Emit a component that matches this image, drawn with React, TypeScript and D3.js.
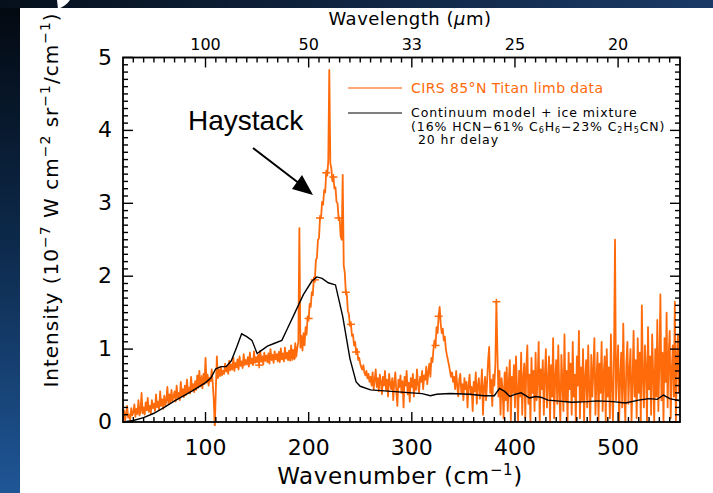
import React from 'react';
import * as d3 from 'd3';

// CIRS spectrum, sampled every 1 cm-1 from 20 to 560
const dataStart = 20;
const dataStep = 1;
const cirsValues = [
  0.04, 0.16, 0.02, 0.12, 0.22, 0.06, 0.10, 0.03, 0.19, 0.09,
  0.13, 0.24, 0.07, 0.18, 0.11, 0.30, 0.09, 0.15, 0.40, 0.12,
  0.20, 0.10, 0.27, 0.16, 0.33, 0.14, 0.22, 0.12, 0.30, 0.19,
  0.25, 0.15, 0.38, 0.20, 0.28, 0.17, 0.42, 0.22, 0.31, 0.18,
  0.36, 0.23, 0.30, 0.48, 0.25, 0.38, 0.27, 0.44, 0.29, 0.35,
  0.42, 0.28, 0.50, 0.33, 0.40, 0.30, 0.55, 0.36, 0.45, 0.34,
  0.50, 0.37, 0.58, 0.40, 0.47, 0.39, 0.62, 0.43, 0.52, 0.41,
  0.56, 0.44, 0.64, 0.47, 0.70, 0.49, 0.60, 0.46, 0.66, 0.52,
  0.88, 0.54, 0.65, 0.50, 0.61, 0.56, 0.72, 0.53, 0.30, -0.08,
  0.45, 0.90, 0.60, 0.72, 0.63, 0.76, 0.64, 0.70, 0.66, 0.80,
  0.69, 0.77, 0.66, 0.84, 0.71, 0.79, 0.72, 0.88, 0.70, 0.81,
  0.75, 0.86, 0.72, 0.90, 0.77, 0.83, 0.74, 0.93, 0.78, 0.85,
  0.79, 0.89, 0.76, 0.95, 0.80, 0.87, 0.78, 0.97, 0.81, 0.89,
  0.82, 0.92, 0.78, 0.98, 0.83, 0.90, 0.79, 0.95, 0.84, 0.91,
  0.82, 0.94, 0.80, 1.00, 0.85, 0.92, 0.81, 0.97, 0.86, 0.93,
  0.83, 0.96, 0.82, 1.01, 0.86, 0.94, 0.83, 1.02, 0.87, 0.95,
  0.85, 0.98, 0.84, 1.05, 0.88, 0.99, 0.86, 1.08, 0.90, 1.02,
  1.10, 2.66, 1.02, 1.18, 0.98, 1.22, 1.05, 1.30, 1.20, 1.45,
  1.42, 1.62, 1.58, 1.78, 1.74, 1.98, 1.95, 2.22, 2.25, 2.50,
  2.52, 2.80, 2.80, 3.02, 2.98, 3.18, 3.15, 3.42, 3.38, 3.58,
  4.83, 3.55, 3.48, 3.30, 3.36, 3.20, 3.22, 3.02, 3.00, 2.80,
  2.80, 2.55, 2.50, 3.39, 2.15, 2.05, 1.78, 1.75, 1.52, 1.48,
  1.32, 1.34, 1.18, 1.20, 1.05, 1.10, 0.96, 1.00, 0.85, 0.88,
  0.80, 0.75, 0.72, 0.78, 0.68, 0.64, 0.70, 0.60, 0.66, 0.55,
  0.62, 0.50, 0.68, 0.45, 0.58, 0.72, 0.48, 0.60, 0.42, 0.65,
  0.55, 0.38, 0.62, 0.50, 0.70, 0.44, 0.58, 0.35, 0.66, 0.52,
  0.45, 0.60, 0.30, 0.55, 0.68, 0.42, 0.22, 0.58, 0.48, 0.64,
  0.40, 0.56, 0.20, 0.62, 0.50, 0.70, 0.38, 0.54, 0.28, 0.60,
  0.48, 0.66, 0.35, 0.58, 0.44, 0.72, 0.52, 0.40, 0.62, 0.55,
  0.70, 0.45, 0.64, 0.58, 0.76, 0.52, 0.68, 0.80, 0.62, 0.88,
  0.82, 1.00, 1.12, 1.05, 1.30, 1.22, 1.45, 1.58, 1.35, 1.22,
  1.28, 1.12, 1.17, 1.00, 0.92, 0.85, 0.78, 0.70, 0.62, 0.68,
  0.55, 0.62, 0.45, 0.70, 0.50, 0.35, 0.58, 0.66, 0.40, 0.52,
  0.30, 0.60, 0.45, 0.55, 0.20, 0.50, 0.65, 0.38, 0.48, 0.15,
  0.55, 0.42, 0.68, 0.25, 0.50, 0.60, 0.32, 0.45, 0.72, 0.10,
  0.48, 0.62, 0.30, 0.55, 0.85, 1.03, 0.40, 0.58, 0.22, 0.65,
  0.50, 0.80, 1.65, 0.95, 0.35, 0.70, 0.10, 0.60, 0.45, 0.05,
  0.68, 0.30, 0.75, 0.15, 0.55, 0.85, 0.00, 0.62, 0.40, 0.78,
  0.20, 0.90, 0.45, 0.00, 0.70, 0.35, 0.95, 0.10, 0.60, 0.80,
  0.05, 0.75, 1.05, 0.25, 0.65, 0.00, 0.88, 0.40, 0.70, 0.15,
  0.95, 0.30, 0.60, 1.10, 0.00, 0.72, 0.45, 0.85, 0.10, 0.65,
  1.00, 0.20, 0.55, 0.90, 0.00, 0.78, 0.35, 1.15, 0.05, 0.60,
  0.85, 0.25, 1.05, 0.40, 0.00, 0.92, 0.55, 0.15, 1.20, 0.30,
  0.70, 0.00, 0.95, 0.45, 0.80, 0.10, 1.10, 0.35, 0.65, 0.00,
  0.90, 0.50, 1.25, 0.05, 0.75, 0.30, 1.00, 0.00, 0.60, 0.85,
  0.20, 1.05, 0.45, 0.00, 0.92, 0.35, 0.70, 1.15, 0.10, 0.55,
  0.95, 0.00, 0.80, 0.40, 1.10, 0.15, 0.65, 0.90, 0.00, 1.00,
  0.35, 0.75, 0.05, 1.20, 0.50, 0.00, 0.85, 2.50, 0.30, 0.70,
  1.05, 0.00, 0.60, 0.95, 0.20, 1.35, 0.45, 0.00, 0.80, 1.10,
  0.25, 0.70, 1.00, 0.00, 0.55, 1.25, 0.35, 0.85, 0.05, 1.15,
  0.40, 0.95, 0.00, 1.60, 0.60, 0.20, 1.05, 0.75, 0.00, 1.30,
  0.45, 0.90, 0.10, 1.20, 0.65, 0.00, 1.00, 0.35, 1.40, 0.15,
  0.80, 1.75, 0.30, 0.95, 0.00, 1.15, 0.55, 1.50, 0.20, 0.90,
  1.25, 0.05, 0.70, 1.05, 0.35, 1.65, 0.00, 0.85, 1.20, 0.40,
  0.95,
];
// wavenumbers where the error-bar crosses are drawn
const errorBarNu = [62, 96, 152, 184, 200, 206, 211, 217, 224, 229, 236, 241, 246, 323, 326, 382];

// continuum model + ice mixture
const modelNu = [20, 30, 40, 50, 60, 70, 80, 90, 100, 105, 110, 115, 120, 125, 130, 135, 140, 145, 150, 155, 160, 167, 174, 180, 186, 195, 203, 208, 213, 219, 226, 233, 240, 246, 250, 260, 270, 280, 290, 300, 310, 318, 324, 337, 356, 370, 380, 385, 390, 395, 400, 406, 414, 420, 425, 432, 440, 455, 470, 480, 495, 507, 520, 530, 538, 544, 550, 560];
const modelValues = [0.0, 0.02, 0.06, 0.12, 0.2, 0.29, 0.37, 0.45, 0.54, 0.6, 0.73, 0.76, 0.76, 0.84, 1.02, 1.21, 1.17, 1.12, 0.94, 0.99, 1.04, 1.08, 1.12, 1.3, 1.48, 1.75, 1.93, 1.99, 1.97, 1.91, 1.88, 1.45, 0.87, 0.55, 0.49, 0.44, 0.43, 0.42, 0.41, 0.40, 0.39, 0.36, 0.38, 0.39, 0.38, 0.36, 0.36, 0.46, 0.42, 0.35, 0.38, 0.40, 0.33, 0.35, 0.34, 0.30, 0.29, 0.27, 0.28, 0.29, 0.28, 0.26, 0.30, 0.32, 0.31, 0.37, 0.32, 0.29];

const xMajor = [100, 200, 300, 400, 500];
const xMajorLabels = ['100', '200', '300', '400', '500'];
const topLabels = ['100', '50', '33', '25', '20'];
const yMajor = [0, 1, 2, 3, 4, 5];

const W = 713;
const H = 493;
const FONT = 'DejaVu Sans, sans-serif';
const ORANGE = '#ff6a0a';

export default function App() {
  const x = d3.scaleLinear().domain([20, 560]).range([123, 680]);
  const y = d3.scaleLinear().domain([0, 5]).range([422, 57.5]);
  const [x0, x1] = x.range();
  const [y0, y1] = y.range();

  const cirs = cirsValues.map((v, i) => ({ nu: dataStart + i * dataStep, v }));
  const model = modelNu.map((nu, i) => ({ nu, v: modelValues[i] }));

  const line = d3.line<{ nu: number; v: number }>().x(d => x(d.nu)).y(d => y(d.v));

  const xMinor = d3.range(30, 560, 10).filter(t => t % 100 !== 0);
  const yMinor = d3.range(0, 50).map(i => i / 10).filter(t => Math.abs(t - Math.round(t)) > 1e-6);

  return (
    <svg width={W} height={H} style={{ position: 'absolute', left: 0, top: 0 }} fontFamily={FONT}>
      <defs>
        <linearGradient id="side" x1="0" y1="0" x2="0" y2="1">
          <stop offset="0" stopColor="#03080f" />
          <stop offset="0.5" stopColor="#0d2a4c" />
          <stop offset="1" stopColor="#1f5696" />
        </linearGradient>
        <linearGradient id="topband" x1="0" y1="0" x2="1" y2="0">
          <stop offset="0" stopColor="#06101c" />
          <stop offset="1" stopColor="#1a3a66" />
        </linearGradient>
        <clipPath id="plot">
          <rect x={x0} y={y1} width={x1 - x0} height={y0 - y1 + 4} />
        </clipPath>
      </defs>
      <rect x={0} y={0} width={W} height={H} fill="url(#side)" />
      <rect x={0} y={0} width={W} height={8} fill="url(#topband)" />
      <rect x={20} y={8} width={W - 20} height={H - 8} fill="#ffffff" />
      <path d="M57,0 L70,0 Q66,6 58,9 Z" fill="#ffffff" />

      {/* data */}
      <g clipPath="url(#plot)">
        <path d={line(cirs) ?? ''} fill="none" stroke={ORANGE} strokeWidth={1.8} strokeLinejoin="round" />
        {errorBarNu.map(nu => {
          const d = cirs.find(p => p.nu === nu)!;
          return (
            <g key={nu} stroke={ORANGE} strokeWidth={1.5}>
              <line x1={x(nu) - 4} x2={x(nu) + 4} y1={y(d.v)} y2={y(d.v)} />
              <line x1={x(nu)} x2={x(nu)} y1={y(d.v) - 3} y2={y(d.v) + 3} />
            </g>
          );
        })}
        <path d={line(model) ?? ''} fill="none" stroke="#000" strokeWidth={1.4} />
      </g>

      {/* frame */}
      <rect x={x0} y={y1} width={x1 - x0} height={y0 - y1} fill="none" stroke="#000" strokeWidth={1.8} />
      <g stroke="#000" strokeWidth={1.4}>
        {xMajor.map(t => (
          <g key={'xM' + t}>
            <line x1={x(t)} x2={x(t)} y1={y0} y2={y0 - 10} />
            <line x1={x(t)} x2={x(t)} y1={y1} y2={y1 + 10} />
          </g>
        ))}
        {xMinor.map(t => (
          <g key={'xm' + t}>
            <line x1={x(t)} x2={x(t)} y1={y0} y2={y0 - 5} />
            <line x1={x(t)} x2={x(t)} y1={y1} y2={y1 + 5} />
          </g>
        ))}
        {yMajor.map(t => (
          <g key={'yM' + t}>
            <line x1={x0} x2={x0 + 10} y1={y(t)} y2={y(t)} />
            <line x1={x1} x2={x1 - 10} y1={y(t)} y2={y(t)} />
          </g>
        ))}
        {yMinor.map(t => (
          <g key={'ym' + t}>
            <line x1={x0} x2={x0 + 5} y1={y(t)} y2={y(t)} />
            <line x1={x1} x2={x1 - 5} y1={y(t)} y2={y(t)} />
          </g>
        ))}
      </g>

      {/* tick labels */}
      <g fontSize={22} fill="#000">
        {xMajor.map((t, i) => (
          <text key={'xl' + t} x={x(t)} y={455} textAnchor="middle">{xMajorLabels[i]}</text>
        ))}
        {yMajor.map(t => (
          <text key={'yl' + t} x={112} y={y(t) + 7} textAnchor="end">{t}</text>
        ))}
      </g>
      <g fontSize={16} fill="#000">
        {xMajor.map((t, i) => (
          <text key={'tl' + t} x={x(t)} y={50} textAnchor="middle">{topLabels[i]}</text>
        ))}
      </g>

      {/* axis titles */}
      <text x={410} y={25} fontSize={18} textAnchor="middle" letterSpacing={0.5}>Wavelength (<tspan fontStyle="italic">µ</tspan>m)</text>
      <text x={400} y={484} fontSize={23} textAnchor="middle" letterSpacing={0.6}>
        Wavenumber (cm<tspan dy={-9} fontSize={15}>−1</tspan><tspan dy={9}>)</tspan>
      </text>
      <text transform="translate(58,200) rotate(-90)" fontSize={20} textAnchor="middle" letterSpacing={1}>
        Intensity (10<tspan dy={-8} fontSize={14}>−7</tspan><tspan dy={8}> W cm</tspan><tspan dy={-8} fontSize={14}>−2</tspan><tspan dy={8}> sr</tspan><tspan dy={-8} fontSize={14}>−1</tspan><tspan dy={8}>/cm</tspan><tspan dy={-8} fontSize={14}>−1</tspan><tspan dy={8}>)</tspan>
      </text>

      {/* legend */}
      <line x1={348} x2={402} y1={88} y2={88} stroke="#ffa878" strokeWidth={2} />
      <text x={411} y={93} fontSize={14} fill={ORANGE} letterSpacing={0.4}>CIRS 85°N Titan limb data</text>
      <line x1={348} x2={402} y1={113} y2={113} stroke="#000" strokeWidth={1.2} />
      <g fontSize={12.5} fill="#000" letterSpacing={0.9}>
        <text x={411} y={117}>Continuum model + ice mixture</text>
        <text x={411} y={130.5}>(16% HCN−61% C<tspan dy={2.5} fontSize={8}>6</tspan><tspan dy={-2.5}>H</tspan><tspan dy={2.5} fontSize={8}>6</tspan><tspan dy={-2.5}>−23% C</tspan><tspan dy={2.5} fontSize={8}>2</tspan><tspan dy={-2.5}>H</tspan><tspan dy={2.5} fontSize={8}>5</tspan><tspan dy={-2.5}>CN)</tspan></text>
        <text x={418} y={144}>20 hr delay</text>
      </g>

      {/* annotation */}
      <text x={188} y={130} fontSize={28} fontFamily="Liberation Sans, Arial, sans-serif">Haystack</text>
      <line x1={253} y1={148} x2={300} y2={184} stroke="#000" strokeWidth={2} />
      <path d="M313,195 L292,189 L302,175 Z" fill="#000" />
    </svg>
  );
}
